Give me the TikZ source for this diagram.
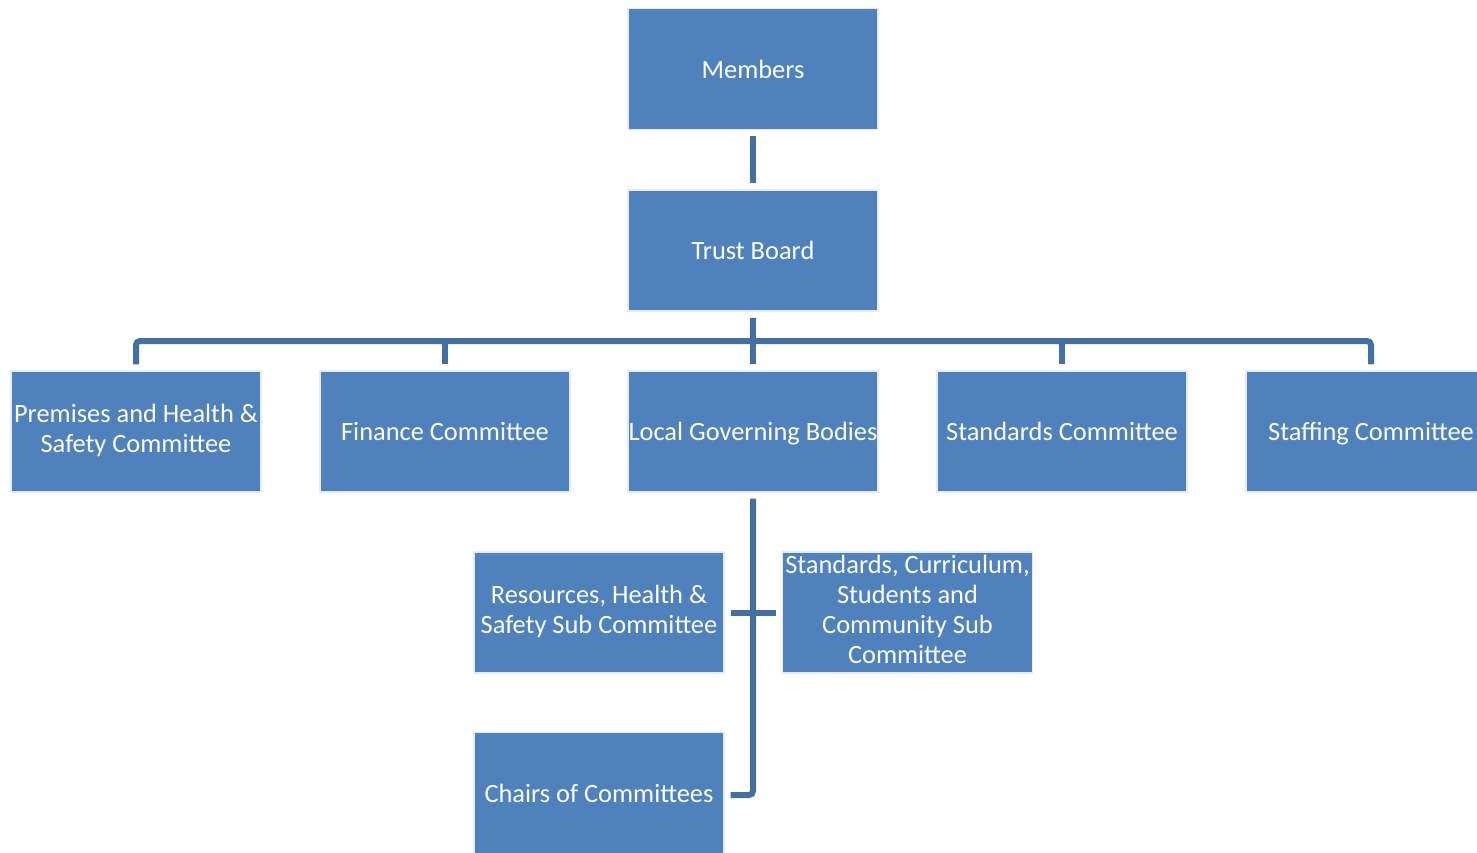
\documentclass[tikz,border=0pt]{standalone}
\usepackage{fontspec}
\setmainfont{Carlito}
\usepackage{tikz}
\usetikzlibrary{positioning}
\definecolor{boxblue}{RGB}{79,129,189}
\definecolor{lineblue}{RGB}{67,111,162}
\tikzset{every node/.style={align=center}}
\newcommand{\boxstrut}{\rule[-3pt]{0pt}{15pt}}

\begin{document}
\begin{tikzpicture}[x=0.5pt,y=-0.5pt,
        box/.style={draw=white!85!boxblue, line width=0.6pt, fill=boxblue, text=white,
            minimum width=125pt, minimum height=60.5pt, inner sep=0pt,
            font=\fontsize{13.2}{15}\selectfont,
            execute at begin node=\boxstrut, execute at end node=\boxstrut},
        link/.style={draw=lineblue, line width=3pt, rounded corners=2pt}]
        \useasboundingbox (0,0) rectangle (1477,852);
        \clip (0,0) rectangle (1477,852);

        % top levels
        \node[box] (members) at (753,69) {Members};
        \node[box] (trust) at (753,250.5) {Trust Board};

        % committees
        \node[box] (premises) at (136,431.5) {Premises and Health \&\\Safety Committee};
        \node[box] (finance) at (445,431.5) {Finance Committee};
        \node[box] (lgb) at (753,431.5) {Local Governing Bodies};
        \node[box] (standards) at (1062,431.5) {Standards Committee};
        \node[box] (staffing) at (1371,431.5) {Staffing Committee};

        % sub committees
        \node[box] (resources) at (599,612.5) {Resources, Health \&\\Safety Sub Committee};
        \node[box] (curriculum) at (907.5,612.5) {Standards, Curriculum,\\Students and\\Community Sub\\Committee};
        \node[box] (chairs) at (599,793) {Chairs of Committees};

        % members to trust board
        \draw[link] ([yshift=-3pt]members.south) -- ([yshift=3pt]trust.north);

        % trust board to committees
        \coordinate (bus) at (753,341);
        \draw[link] ([yshift=-3pt]trust.south) -- (bus);
        \draw[link] ([yshift=3pt]premises.north) |- (bus) -| ([yshift=3pt]staffing.north);
        \foreach \n in {finance,lgb,standards}
            \draw[link] (bus -| \n.north) -- ([yshift=3pt]\n.north);

        % local governing bodies to sub committees
        \coordinate (stem) at (753,795);
        \draw[link] ([yshift=-3pt]lgb.south) -- (stem) -- ([xshift=3pt]stem -| chairs.east);
        \draw[link] ([xshift=3pt]resources.east) -- ([xshift=-3pt]curriculum.west);

    \end{tikzpicture}
\end{document}
